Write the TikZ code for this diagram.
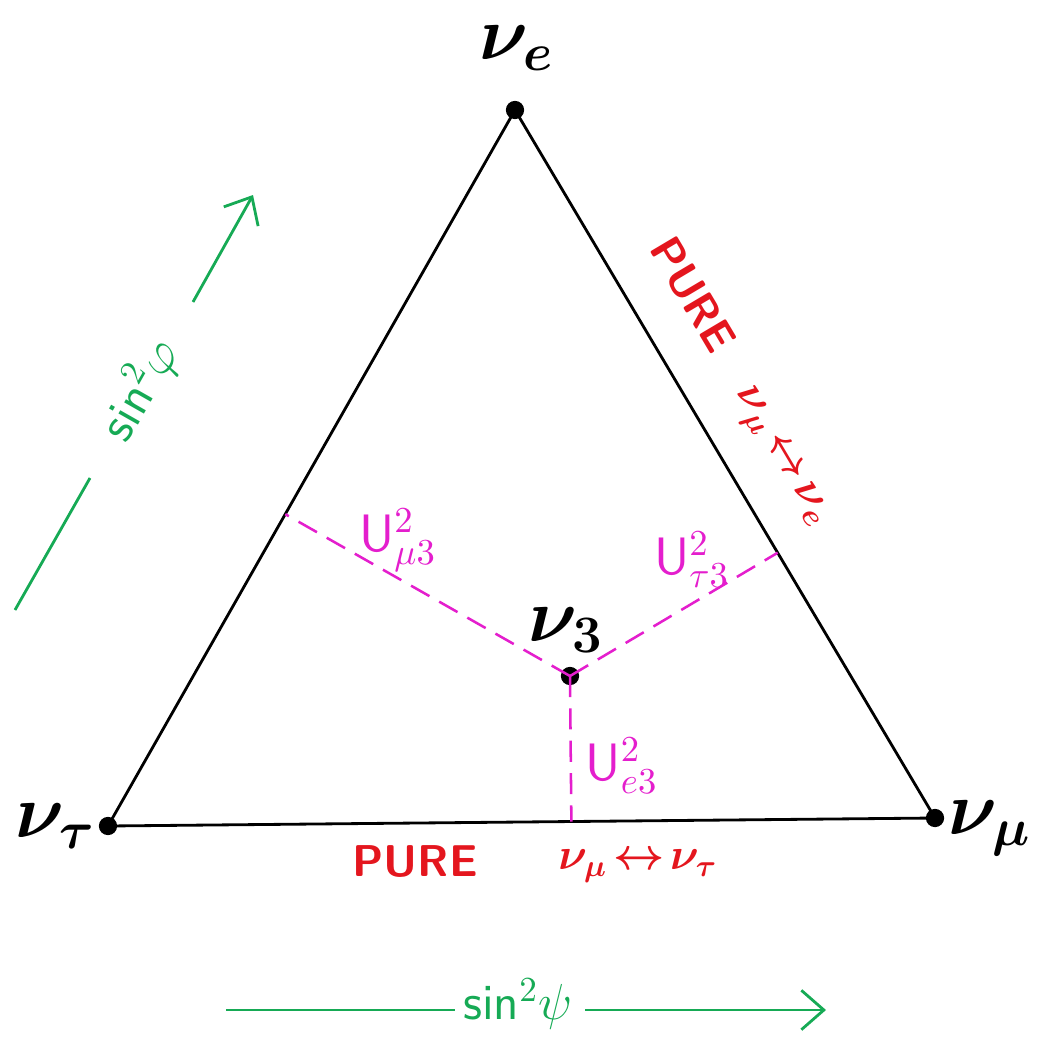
\documentclass[tikz,border=0pt]{standalone}
\usetikzlibrary{calc,arrows.meta}
\definecolor{pred}{RGB}{228,22,30}
\definecolor{pgreen}{RGB}{22,170,85}
\definecolor{pmag}{RGB}{228,30,205}
\tikzset{
  vdot/.style={circle,fill=black,inner sep=0pt,minimum size=13pt},
  side/.style={line width=2pt,black},
  proj/.style={line width=1.8pt,pmag,dash pattern=on 15pt off 8pt},
  vlab/.style={font=\huge\boldmath,scale=2.6,inner sep=0pt},
  redlab/.style={text=pred,font=\Large\sffamily\bfseries\boldmath,scale=2.2,inner sep=0pt},
  maglab/.style={text=pmag,font=\Large\sffamily,scale=2.6,inner sep=0pt},
  grnlab/.style={text=pgreen,font=\Large\sffamily,scale=2.5,inner sep=0pt},
  gline/.style={line width=2pt,pgreen},
  garrow/.style={gline,-{Straight Barb[length=16pt,width=28pt,line width=2pt]}}
}
\begin{document}
\begin{tikzpicture}[x=0.025cm,y=-0.025cm]
\useasboundingbox (0,0) rectangle (1038,1052);
% vertices
\node[vdot] (E) at (515,110) {};
\node[vdot] (T) at (108,826) {};
\node[vdot] (M) at (935,818) {};
\node[vdot] (N) at (570,676) {};
% triangle
\draw[side] (T.center) -- (E.center) -- (M.center) -- cycle;
% projection feet
\coordinate (FL) at ($(T.center)!(N.center)!(E.center)$);
\coordinate (FR) at ($(E.center)!(N.center)!(M.center)$);
\coordinate (FB) at ($(T.center)!(N.center)!(M.center)$);
\draw[proj] (N.center) -- (FL);
\draw[proj] (N.center) -- (FR);
\draw[proj] (N.center) -- (FB);
% vertex labels
\node[vlab] (lE) at (517,48) {$\nu_e$};
\node[vlab] (lT) at (56,826) {$\nu_\tau$};
\node[vlab] (lM) at (990,828) {$\nu_\mu$};
\node[vlab] (l3) at (566,630) {$\nu_3$};
% magenta labels
\node[maglab] (u1) at (398,540) {U$^2_{\mu3}$};
\node[maglab] (u2) at (692,560) {U$^2_{\tau3}$};
\node[maglab] (u3) at (622,766) {U$^2_{e3}$};
% red labels, right side
\node[redlab,rotate=-59.3] (p1) at (693,295) {PURE};
\node[redlab,rotate=-59.3] (p2) at (779,458) {$\nu_\mu\!\leftrightarrow\!\nu_e$};
% red labels, bottom
\node[redlab] (p3) at (415,862) {PURE};
\node[redlab] (p4) at (638,866) {$\nu_\mu\!\leftrightarrow\!\nu_\tau$};
% green left
\coordinate (gl1) at (15,610);
\coordinate (gl2) at (90,478);
\coordinate (gl3) at (193,302);
\coordinate (gl4) at (253,195);
\node[grnlab,rotate=60.4] (sphi) at (140,390) {sin$^2\varphi$};
\draw[gline] (gl1) -- (gl2);
\draw[garrow] (gl3) -- (gl4);
% green bottom
\coordinate (gb1) at (226,1010);
\coordinate (gb2) at (455,1010);
\coordinate (gb3) at (585,1010);
\coordinate (gb4) at (826,1010);
\node[grnlab] (spsi) at (518,1004) {sin$^2\psi$};
\draw[gline] (gb1) -- (gb2);
\draw[garrow] (gb3) -- (gb4);
\end{tikzpicture}
\end{document}
